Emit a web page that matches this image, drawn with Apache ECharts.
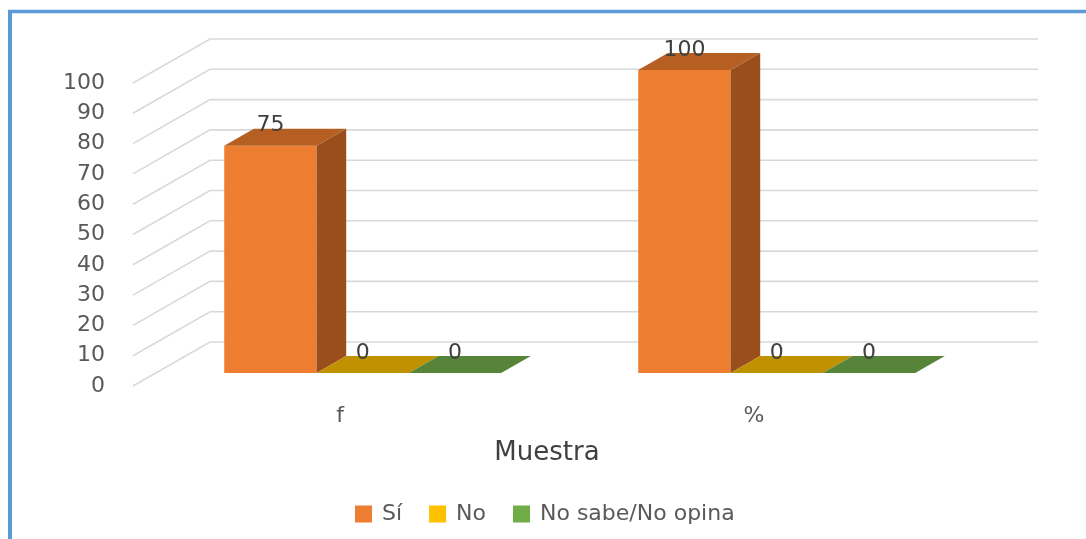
<!DOCTYPE html>
<html>
<head>
<meta charset="utf-8">
<title>Muestra</title>
<script src="https://cdn.jsdelivr.net/npm/echarts@6/dist/echarts.min.js"></script>
<style>
  html, body { margin: 0; padding: 0; background: #ffffff; }
  #chart { width: 1086px; height: 539px; }
</style>
</head>
<body>
<div id="chart"></div>
<script>
// ---- data ----
const categories = ['f', '%'];
const seriesNames = ['Sí', 'No', 'No sabe/No opina'];
const siValues = [75, 100];
const noValues = [0, 0];
const nsValues = [0, 0];
const yTicks = [0, 10, 20, 30, 40, 50, 60, 70, 80, 90, 100];

// ---- look ----
const FONT = 'DejaVu Sans';
const faceColors = [
  { legend: '#ED7D31', front: '#ED7D31', top: '#B65F22', side: '#9A4E1C' },
  { legend: '#FFC000', front: '#FFC000', top: '#C09100', side: '#A07800' },
  { legend: '#70AD47', front: '#70AD47', top: '#56853A', side: '#4A7030' }
];
// floor depth vector (pixels) of the pseudo-3D box
const DEPTH = [77, -44];
// where the bar prisms sit inside that depth (fractions)
const FRONT = 0.295, BACK = 0.68;
// share of a category band taken by one bar
const BAR_SHARE = 0.223;

function gridRenderer(params, api) {
  const cs = params.coordSys;
  const y = api.coord([0, api.value(1)])[1];
  const x0 = cs.x;
  return {
    type: 'polyline',
    shape: { points: [[x0, y], [x0 + DEPTH[0], y + DEPTH[1]], [x0 + cs.width + DEPTH[0], y + DEPTH[1]]] },
    style: { stroke: '#D9D9D9', lineWidth: 1.6, fill: null }
  };
}

function barRenderer(si) {
  return function (params, api) {
    const cat = api.value(0), val = api.value(1);
    const base = api.coord([cat, 0]);
    const top = api.coord([cat, val]);
    const band = api.size([1, 0])[0];
    const bw = band * BAR_SHARE;
    const fx = DEPTH[0] * FRONT, fy = DEPTH[1] * FRONT;
    const bx = DEPTH[0] * (BACK - FRONT), by = DEPTH[1] * (BACK - FRONT);
    const x0 = base[0] - 1.5 * bw + si * bw + fx;
    const x1 = x0 + bw;
    const yb = base[1] + fy, yt = top[1] + fy;
    const c = faceColors[si];
    const children = [];
    if (yb - yt > 0.5) {
      children.push({ type: 'rect', shape: { x: x0, y: yt, width: bw, height: yb - yt }, style: { fill: c.front } });
      children.push({ type: 'polygon', shape: { points: [[x1, yt], [x1 + bx, yt + by], [x1 + bx, yb + by], [x1, yb]] }, style: { fill: c.side } });
    }
    children.push({ type: 'polygon', shape: { points: [[x0, yt], [x0 + bx, yt + by], [x1 + bx, yt + by], [x1, yt]] }, style: { fill: c.top } });
    children.push({
      type: 'text',
      style: {
        text: String(val), x: (x0 + x1) / 2, y: yt - 20,
        align: 'center', verticalAlign: 'middle', textAlign: 'center', textVerticalAlign: 'middle',
        fontSize: 22, fontFamily: FONT, fill: '#404040'
      }
    });
    return { type: 'group', children: children };
  };
}

const valueSets = [siValues, noValues, nsValues];
const barSeries = seriesNames.map(function (name, si) {
  return {
    type: 'custom',
    name: name,
    renderItem: barRenderer(si),
    itemStyle: { color: faceColors[si].legend },
    encode: { x: 0, y: 1 },
    data: categories.map(function (c, i) { return [i, valueSets[si][i]]; }),
    z: 3
  };
});

const chart = echarts.init(document.getElementById('chart'));
chart.setOption({
  animation: false,
  backgroundColor: '#ffffff',
  textStyle: { fontFamily: FONT },
  graphic: [
    { type: 'line', shape: { x1: 8, y1: 11.5, x2: 1086, y2: 11.5 }, style: { stroke: '#5B9BD5', lineWidth: 3.5 } },
    { type: 'line', shape: { x1: 10, y1: 10, x2: 10, y2: 539 }, style: { stroke: '#5B9BD5', lineWidth: 4 } }
  ],
  grid: { left: 133, top: 83, width: 828, height: 303 },
  legend: {
    data: seriesNames,
    left: 350, top: 498,
    icon: 'rect', itemWidth: 17, itemHeight: 17, itemGap: 27,
    textStyle: { fontSize: 22, color: '#595959', fontFamily: FONT, padding: [0, 0, 0, 5] }
  },
  xAxis: {
    type: 'category',
    data: categories,
    axisLine: { show: false }, axisTick: { show: false }, splitLine: { show: false },
    axisLabel: { fontSize: 22, color: '#595959', margin: 19, fontFamily: FONT },
    name: 'Muestra', nameLocation: 'middle', nameGap: 54,
    nameTextStyle: { fontSize: 26, color: '#404040', fontFamily: FONT }
  },
  yAxis: {
    type: 'value', min: 0, max: 100, interval: 10,
    axisLine: { show: false }, axisTick: { show: false }, splitLine: { show: false },
    axisLabel: { fontSize: 22, color: '#595959', margin: 28, fontFamily: FONT }
  },
  series: [{
    type: 'custom',
    name: 'grid',
    silent: true,
    renderItem: gridRenderer,
    encode: { x: 0, y: 1 },
    data: yTicks.map(function (v) { return [0, v]; }),
    z: 1
  }].concat(barSeries)
});
</script>
</body>
</html>
